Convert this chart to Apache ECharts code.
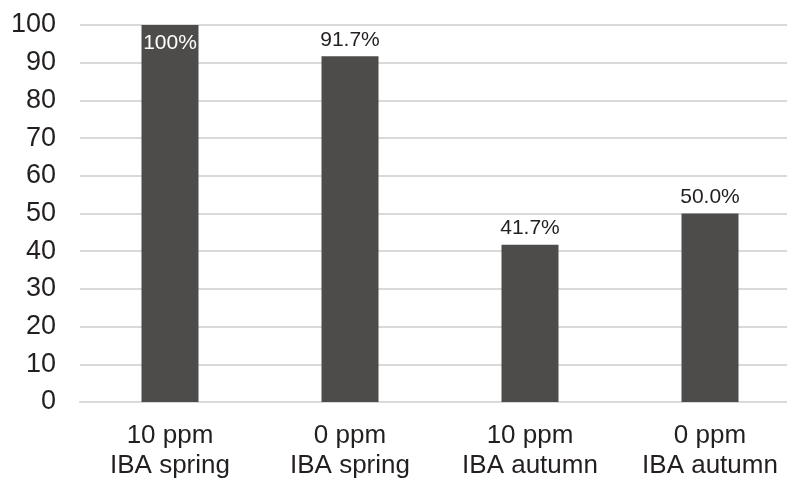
<!DOCTYPE html>
<html>
<head>
<meta charset="utf-8">
<script src="https://cdn.jsdelivr.net/npm/echarts@6/dist/echarts.min.js"></script>
<style>
  html, body { margin: 0; padding: 0; background: #fff; }
  #main { width: 787px; height: 483px; }
</style>
</head>
<body>
<div id="main"></div>
<script>
// categories and values
const categories = ['10 ppm\nIBA spring', '0 ppm\nIBA spring', '10 ppm\nIBA autumn', '0 ppm\nIBA autumn'];
const values = [100, 91.7, 41.7, 50.0];
const valueLabels = ['100%', '91.7%', '41.7%', '50.0%'];

const barColor = '#4e4c4a';
const textColor = '#231f20';
const gridColor = '#d9d9d9';

const myChart = echarts.init(document.getElementById('main'));

const seriesData = values.map((v, i) => {
  const item = { value: v };
  if (v >= 100) {
    // top label sits inside the bar, in white
    item.label = { position: 'insideTop', distance: 8, color: '#fff' };
  }
  return item;
});

const option = {
  backgroundColor: '#fff',
  animation: false,
  grid: {
    left: 80,
    top: 25,
    bottom: 81,
    width: 720,
    outerBoundsMode: 'none'
  },
  xAxis: {
    type: 'category',
    data: categories,
    axisTick: { show: false },
    axisLine: { lineStyle: { color: gridColor, width: 2 } },
    axisLabel: {
      color: textColor,
      fontFamily: 'Liberation Sans, Arial, sans-serif',
      fontSize: 26,
      lineHeight: 30,
      margin: 19
    }
  },
  yAxis: {
    type: 'value',
    min: 0,
    max: 100,
    interval: 10,
    axisLine: { show: false },
    axisTick: { show: false },
    splitLine: { lineStyle: { color: gridColor, width: 2 } },
    axisLabel: {
      color: textColor,
      fontFamily: 'Liberation Sans, Arial, sans-serif',
      fontSize: 27,
      margin: 24
    }
  },
  series: [
    {
      type: 'bar',
      data: seriesData,
      barWidth: 57,
      itemStyle: { color: barColor },
      label: {
        show: true,
        position: 'top',
        distance: 6,
        color: textColor,
        fontFamily: 'Liberation Sans, Arial, sans-serif',
        fontSize: 21,
        formatter: (p) => valueLabels[p.dataIndex]
      }
    }
  ]
};

myChart.setOption(option);
</script>
</body>
</html>
